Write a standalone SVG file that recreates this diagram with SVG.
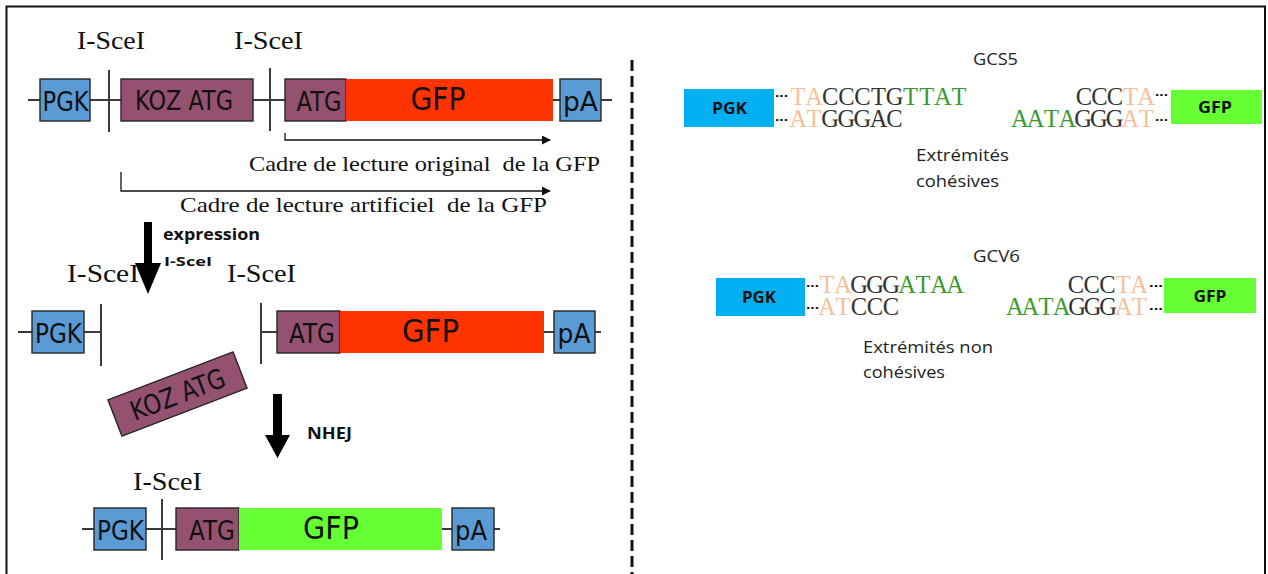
<svg xmlns="http://www.w3.org/2000/svg" width="1268" height="574" viewBox="0 0 1268 574">
<style>
.bb{stroke:#3a3a3a;stroke-width:2;fill:none}
.cut{stroke:#3a3a3a;stroke-width:2}
.blue{fill:#5b9bd5;stroke:#262626;stroke-width:1.4}
.mauve{fill:#955270;stroke:#262626;stroke-width:1.4}
.red{fill:#ff3300}
.green{fill:#66ff33}
.bx{font-family:"DejaVu Sans",sans-serif;font-size:27px;fill:#111;text-anchor:middle}
.gfp{font-family:"DejaVu Sans",sans-serif;font-size:32px;fill:#111;text-anchor:middle}
.ser{font-family:"Liberation Serif","Times New Roman",serif;font-size:25px;fill:#111;white-space:pre}
.cad{font-family:"Liberation Serif","Times New Roman",serif;font-size:21.5px;fill:#111;white-space:pre}
.bold{font-family:"Open Sans","Liberation Sans",sans-serif;font-weight:bold;fill:#111}
.cal{font-family:"Open Sans","Liberation Sans",sans-serif;font-size:16px;fill:#222}
.seq{font-family:"Liberation Serif","Times New Roman",serif;font-size:24.5px;fill:#333;text-anchor:middle}
.pe{fill:#f7c09c}
.gr{fill:#3a9a2e}
.dk{fill:#333}
.dots{font-family:"Liberation Sans",sans-serif;font-weight:bold;font-size:13px;fill:#111}
.fr{stroke:#111;stroke-width:1.3;fill:none}
</style>
<defs>
<marker id="ah" viewBox="0 0 10 10" refX="9" refY="5" markerWidth="9" markerHeight="9" markerUnits="userSpaceOnUse" orient="auto">
<path d="M0,0 L10,5 L0,10 z" fill="#111"/>
</marker>
</defs>
<rect x="0" y="0" width="1268" height="574" fill="#fff"/>
<rect x="6.5" y="6.5" width="1258.5" height="600" fill="none" stroke="#111" stroke-width="2"/>
<line x1="632" y1="60" x2="632" y2="574" stroke="#111" stroke-width="3" stroke-dasharray="11 5"/>

<g id="connectors">
<line class="bb" x1="28" y1="100" x2="612" y2="100"/>
<line class="cut" x1="109" y1="70" x2="109" y2="132"/>
<line class="cut" x1="270" y1="68" x2="270" y2="131"/>
<path class="fr" d="M285,133 V140 H550" marker-end="url(#ah)"/>
<path class="fr" d="M121,172 V191 H550" marker-end="url(#ah)"/>
<line class="bb" x1="18" y1="332" x2="101" y2="332"/>
<line class="bb" x1="261" y1="332" x2="601" y2="332"/>
<line class="cut" x1="101" y1="304" x2="101" y2="366"/>
<line class="cut" x1="261" y1="303" x2="261" y2="364"/>
<line class="bb" x1="82" y1="529" x2="500" y2="529"/>
<line class="cut" x1="162" y1="499" x2="162" y2="560"/>
<polygon points="144,222 152,222 152,263 161,263 148,294 135,263 144,263" fill="#000"/>
<polygon points="273,394 282,394 282,435 290,435 277.5,458 265,435 273,435" fill="#000"/>
</g>

<g id="labels-left">
<text class="ser" x="77" y="49" textLength="68" lengthAdjust="spacingAndGlyphs">I-SceI</text>
<text class="ser" x="234" y="49" textLength="69" lengthAdjust="spacingAndGlyphs">I-SceI</text>
<text class="cad" x="249" y="171" textLength="351" lengthAdjust="spacingAndGlyphs">Cadre de lecture original  de la GFP</text>
<text class="cad" x="180" y="212" textLength="367" lengthAdjust="spacingAndGlyphs">Cadre de lecture artificiel  de la GFP</text>
<text class="bold" x="163" y="240" font-size="15.5" textLength="97" lengthAdjust="spacingAndGlyphs">expression</text>
<text class="bold" x="164" y="266" font-size="13" textLength="48" lengthAdjust="spacingAndGlyphs">I-SceI</text>
<text class="ser" x="67" y="282" textLength="72" lengthAdjust="spacingAndGlyphs">I-SceI</text>
<text class="ser" x="227" y="282" textLength="69" lengthAdjust="spacingAndGlyphs">I-SceI</text>
<text class="bold" x="307" y="439" font-size="16" textLength="45" lengthAdjust="spacingAndGlyphs">NHEJ</text>
<text class="ser" x="133" y="490" textLength="69" lengthAdjust="spacingAndGlyphs">I-SceI</text>
</g>

<g id="row1-pgk"><rect class="blue" x="40" y="79" width="50" height="42"/><text class="bx" x="65.5" y="111" textLength="46" lengthAdjust="spacingAndGlyphs">PGK</text></g>
<g id="row1-koz"><rect class="mauve" x="121" y="79" width="132" height="42"/><text class="bx" x="184" y="110" textLength="98" lengthAdjust="spacingAndGlyphs">KOZ ATG</text></g>
<g id="row1-atg"><rect class="mauve" x="285" y="79" width="61" height="42"/><text class="bx" x="319" y="111" textLength="45" lengthAdjust="spacingAndGlyphs">ATG</text></g>
<g id="row1-gfp"><rect class="red" x="346" y="79" width="207" height="42"/><text class="gfp" x="438" y="110" textLength="55" lengthAdjust="spacingAndGlyphs">GFP</text></g>
<g id="row1-pa"><rect class="blue" x="560" y="79" width="41" height="42"/><text class="bx" x="580.5" y="111" textLength="35" lengthAdjust="spacingAndGlyphs">pA</text></g>

<g id="row2-pgk"><rect class="blue" x="32" y="311" width="52" height="42"/><text class="bx" x="58.5" y="343" textLength="47" lengthAdjust="spacingAndGlyphs">PGK</text></g>
<g id="row2-atg"><rect class="mauve" x="277" y="311" width="63" height="42"/><text class="bx" x="312" y="343" textLength="46" lengthAdjust="spacingAndGlyphs">ATG</text></g>
<g id="row2-gfp"><rect class="red" x="340" y="311" width="204" height="42"/><text class="gfp" x="430.5" y="342" textLength="57" lengthAdjust="spacingAndGlyphs">GFP</text></g>
<g id="row2-pa"><rect class="blue" x="554" y="311" width="41" height="42"/><text class="bx" x="574" y="343" textLength="33" lengthAdjust="spacingAndGlyphs">pA</text></g>

<g id="koz-free" transform="translate(177.5,394) rotate(-21)">
<rect class="mauve" x="-67" y="-19.5" width="134" height="39"/>
<text class="bx" x="0" y="10" textLength="99" lengthAdjust="spacingAndGlyphs">KOZ ATG</text>
</g>

<g id="row3-pgk"><rect class="blue" x="94" y="508" width="52" height="42"/><text class="bx" x="120.5" y="540" textLength="47" lengthAdjust="spacingAndGlyphs">PGK</text></g>
<g id="row3-atg"><rect class="mauve" x="176" y="508" width="63" height="42"/><text class="bx" x="212" y="540" textLength="46" lengthAdjust="spacingAndGlyphs">ATG</text></g>
<g id="row3-gfp"><rect class="green" x="239" y="508" width="203" height="42"/><text class="gfp" x="331" y="539" textLength="56" lengthAdjust="spacingAndGlyphs">GFP</text></g>
<g id="row3-pa"><rect class="blue" x="452" y="508" width="42" height="42"/><text class="bx" x="471" y="540" textLength="32" lengthAdjust="spacingAndGlyphs">pA</text></g>

<g id="gcs5">
<text class="cal" x="973" y="65" textLength="45" lengthAdjust="spacingAndGlyphs">GCS5</text>
<rect x="684" y="89" width="90" height="38" fill="#00b0f0"/>
<text class="bold" x="729.5" y="114" font-size="16" text-anchor="middle" textLength="35" lengthAdjust="spacingAndGlyphs">PGK</text>
<text class="dots" x="775" y="97" textLength="13" lengthAdjust="spacingAndGlyphs">...</text>
<text class="dots" x="775" y="121" textLength="13" lengthAdjust="spacingAndGlyphs">...</text>
<text class="seq" y="105"><tspan class="pe" x="798 814.1">TA</tspan><tspan class="dk" x="830.2 846.3 862.4 878.5 894.5">CCCTG</tspan><tspan class="gr" x="910.6 926.7 942.8 958.9">TTAT</tspan></text>
<text class="seq" y="127"><tspan class="pe" x="798 814.1">AT</tspan><tspan class="dk" x="830.2 846.3 862.4 878.5 894.5">GGGAC</tspan></text>
<text class="seq" y="105"><tspan class="dk" x="1083.8 1099.4 1115">CCC</tspan><tspan class="pe" x="1130.6 1146.2">TA</tspan></text>
<text class="seq" y="127"><tspan class="gr" x="1019.9 1035.7 1051.5 1067.3">AATA</tspan><tspan class="dk" x="1083.1 1098.9 1114.6">GGG</tspan><tspan class="pe" x="1130.4 1146.2">AT</tspan></text>
<text class="dots" x="1155" y="96" textLength="13" lengthAdjust="spacingAndGlyphs">...</text>
<text class="dots" x="1155" y="121" textLength="13" lengthAdjust="spacingAndGlyphs">...</text>
<rect x="1171" y="90" width="91" height="34" fill="#66ff33"/>
<text class="bold" x="1215" y="113" font-size="16" text-anchor="middle" textLength="34" lengthAdjust="spacingAndGlyphs">GFP</text>
<text class="cal" x="916" y="161" textLength="93" lengthAdjust="spacingAndGlyphs">Extrémités</text>
<text class="cal" x="916" y="187" textLength="83" lengthAdjust="spacingAndGlyphs">cohésives</text>
</g>

<g id="gcv6">
<text class="cal" x="973" y="262" textLength="47" lengthAdjust="spacingAndGlyphs">GCV6</text>
<rect x="716" y="278" width="89" height="38" fill="#00b0f0"/>
<text class="bold" x="759" y="303" font-size="16" text-anchor="middle" textLength="34" lengthAdjust="spacingAndGlyphs">PGK</text>
<text class="dots" x="806" y="287" textLength="13" lengthAdjust="spacingAndGlyphs">...</text>
<text class="dots" x="806" y="309" textLength="13" lengthAdjust="spacingAndGlyphs">...</text>
<text class="seq" y="293"><tspan class="pe" x="827 843">TA</tspan><tspan class="dk" x="859 875 891">GGG</tspan><tspan class="gr" x="907 923 939 955">ATAA</tspan></text>
<text class="seq" y="315"><tspan class="pe" x="827 843">AT</tspan><tspan class="dk" x="859 875 891">CCC</tspan></text>
<text class="seq" y="293"><tspan class="dk" x="1075.9 1091.7 1107.5">CCC</tspan><tspan class="pe" x="1123.3 1139.1">TA</tspan></text>
<text class="seq" y="315"><tspan class="gr" x="1014.8 1030.3 1045.9 1061.5">AATA</tspan><tspan class="dk" x="1077 1092.6 1108.1">GGG</tspan><tspan class="pe" x="1123.7 1139.2">AT</tspan></text>
<text class="dots" x="1149" y="287" textLength="14" lengthAdjust="spacingAndGlyphs">...</text>
<text class="dots" x="1149" y="310" textLength="14" lengthAdjust="spacingAndGlyphs">...</text>
<rect x="1164" y="278" width="92" height="35" fill="#66ff33"/>
<text class="bold" x="1210" y="302" font-size="16" text-anchor="middle" textLength="33" lengthAdjust="spacingAndGlyphs">GFP</text>
<text class="cal" x="863" y="353" textLength="130" lengthAdjust="spacingAndGlyphs">Extrémités non</text>
<text class="cal" x="863" y="378" textLength="82" lengthAdjust="spacingAndGlyphs">cohésives</text>
</g>
</svg>
